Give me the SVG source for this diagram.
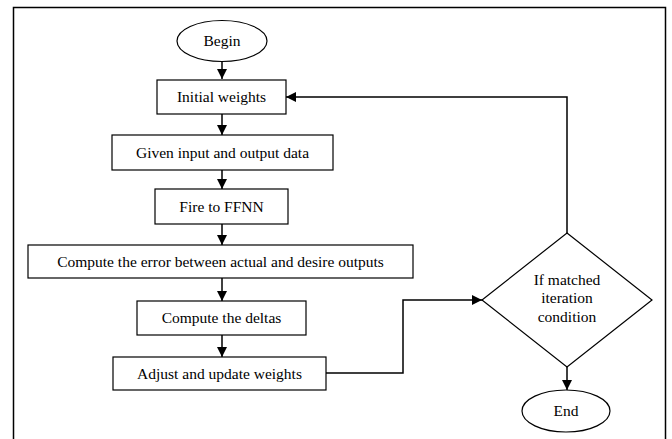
<svg xmlns="http://www.w3.org/2000/svg" width="672" height="439" viewBox="0 0 672 439">
<style>
.box{fill:#fff;stroke:#000;stroke-width:1.2}
.c{fill:none;stroke:#000;stroke-width:1.5}
</style>
<defs>
<marker id="ah" markerWidth="10" markerHeight="10" refX="10" refY="5" orient="auto" markerUnits="userSpaceOnUse">
<path d="M0,0 L10,5 L0,10 Z" fill="#000"/>
</marker>
</defs>
<rect x="0" y="0" width="672" height="439" fill="#fff"/>
<path d="M13.5,445 V7.5 H665.5 V445" fill="none" stroke="#000" stroke-width="1.5"/>
<g id="connectors">
<path class="c" d="M222,62 V79" marker-end="url(#ah)"/>
<path class="c" d="M222,114 V135" marker-end="url(#ah)"/>
<path class="c" d="M222,170 V189" marker-end="url(#ah)"/>
<path class="c" d="M222,224 V245" marker-end="url(#ah)"/>
<path class="c" d="M222,278 V301" marker-end="url(#ah)"/>
<path class="c" d="M222,335 V357" marker-end="url(#ah)"/>
<path class="c" d="M326,373 H403 V300 H482" marker-end="url(#ah)"/>
<path class="c" d="M567,233 V97 H286" marker-end="url(#ah)"/>
<path class="c" d="M567,367 V390" marker-end="url(#ah)"/>
</g>
<g id="begin">
<ellipse class="box" cx="222" cy="41" rx="45" ry="20.5"/>
<text x="222" y="46" font-family="Liberation Serif" font-size="15.5" text-anchor="middle">Begin</text>
</g>
<g id="initial">
<rect class="box" x="157" y="80" width="129" height="34"/>
<text x="221.5" y="102" font-family="Liberation Serif" font-size="15.5" text-anchor="middle">Initial weights</text>
</g>
<g id="given">
<rect class="box" x="112" y="135" width="221" height="35"/>
<text x="222.5" y="157.5" font-family="Liberation Serif" font-size="15.5" text-anchor="middle">Given input and output data</text>
</g>
<g id="fire">
<rect class="box" x="155" y="189" width="133" height="35"/>
<text x="221.5" y="211.5" font-family="Liberation Serif" font-size="15.5" text-anchor="middle">Fire to FFNN</text>
</g>
<g id="error">
<rect class="box" x="28" y="245" width="385" height="33"/>
<text x="220.5" y="266.5" font-family="Liberation Serif" font-size="15.5" text-anchor="middle">Compute the error between actual and desire outputs</text>
</g>
<g id="deltas">
<rect class="box" x="137" y="301" width="169" height="34"/>
<text x="221.5" y="323" font-family="Liberation Serif" font-size="15.5" text-anchor="middle">Compute the deltas</text>
</g>
<g id="adjust">
<rect class="box" x="113" y="357" width="213" height="33"/>
<text x="219.5" y="378.5" font-family="Liberation Serif" font-size="15.5" text-anchor="middle">Adjust and update weights</text>
</g>
<g id="decision">
<polygon class="box" points="567,233 652,300 567,367 482,300"/>
<text x="567" y="285" font-family="Liberation Serif" font-size="15.5" text-anchor="middle">If matched</text>
<text x="567" y="303" font-family="Liberation Serif" font-size="15.5" text-anchor="middle">iteration</text>
<text x="567" y="322" font-family="Liberation Serif" font-size="15.5" text-anchor="middle">condition</text>
</g>
<g id="end">
<ellipse class="box" cx="566" cy="411" rx="44" ry="21"/>
<text x="566" y="416" font-family="Liberation Serif" font-size="15.5" text-anchor="middle">End</text>
</g>
</svg>
